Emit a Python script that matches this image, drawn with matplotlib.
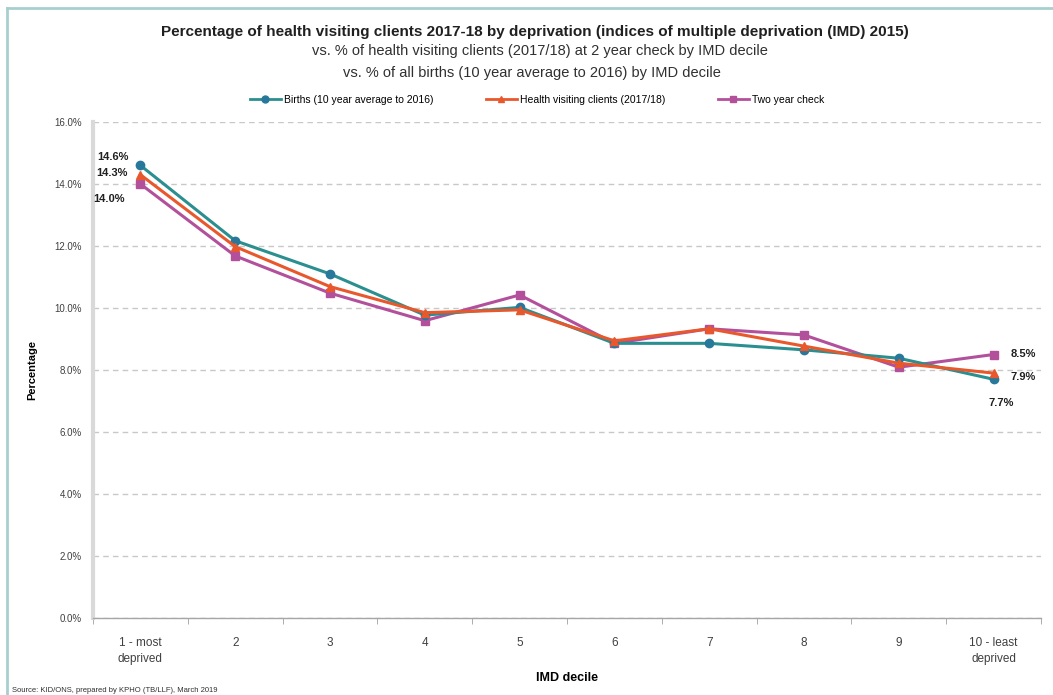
import matplotlib
matplotlib.use('Agg')
import matplotlib.pyplot as plt
from matplotlib.lines import Line2D

FONT = 'Liberation Sans'
plt.rcParams['font.family'] = [FONT, 'DejaVu Sans']

# data
deciles = [1, 2, 3, 4, 5, 6, 7, 8, 9, 10]
tick_labels = ['1 - most\ndeprived', '2', '3', '4', '5', '6', '7', '8', '9', '10 - least\ndeprived']
births = [14.6, 12.17, 11.1, 9.77, 10.02, 8.86, 8.86, 8.65, 8.38, 7.7]
hv_clients = [14.3, 11.98, 10.69, 9.85, 9.94, 8.94, 9.33, 8.77, 8.22, 7.9]
two_year = [14.0, 11.68, 10.48, 9.59, 10.42, 8.86, 9.33, 9.13, 8.09, 8.5]
series_names = ['Births (10 year average to 2016)', 'Health visiting clients (2017/18)', 'Two year check']
yticks = [0, 2, 4, 6, 8, 10, 12, 14, 16]

TEAL = '#2b8f8f'
TEAL_MK = '#27789a'
ORANGE = '#e8582c'
PURPLE = '#b3509b'

fig = plt.figure(figsize=(10.53, 6.95), dpi=100)
ax = fig.add_axes([93 / 1053, 1 - 618 / 695, (1041 - 93) / 1053, (618 - 122) / 695])

ax.plot(deciles, births, color=TEAL, lw=2.2, marker='o', ms=6, mfc=TEAL_MK, mec=TEAL_MK, zorder=3)
ax.plot(deciles, hv_clients, color=ORANGE, lw=2.2, marker='^', ms=6, mfc=ORANGE, mec=ORANGE, zorder=4)
ax.plot(deciles, two_year, color=PURPLE, lw=2.2, marker='s', ms=6, mfc=PURPLE, mec=PURPLE, zorder=2)

ax.set_xlim(0.5, 10.5)
ax.set_ylim(0, 16)
ax.set_yticks(yticks)
ax.set_yticklabels(['%.1f%%' % v for v in yticks], fontsize=7, color='#404040')
ax.set_xticks(deciles)
ax.set_xticklabels(tick_labels, fontsize=8.5, color='#404040', linespacing=1.45)
ax.set_xticks([d + 0.5 for d in [0] + deciles], minor=True)
ax.tick_params(axis='x', which='major', length=0, pad=14)
ax.tick_params(axis='x', which='minor', length=4, color='#a0a0a0')
ax.tick_params(axis='y', length=0, pad=8)

ax.yaxis.grid(True, linestyle=(0, (4, 3)), color='#c8c8c8', lw=1)
ax.set_axisbelow(True)
for s in ['top', 'right']:
    ax.spines[s].set_visible(False)
ax.spines['left'].set_color('#d9d9d9')
ax.spines['left'].set_linewidth(3)
ax.spines['bottom'].set_color('#a6a6a6')
ax.spines['bottom'].set_linewidth(1)

ax.set_ylabel('Percentage', fontsize=8, fontweight='bold', labelpad=12)
ax.set_xlabel('IMD decile', fontsize=9, fontweight='bold')
ax.xaxis.set_label_coords(0.5, -54 / 496)

# data labels at both ends
lab = dict(fontsize=8, fontweight='bold', color='#202020')
ax.annotate('%.1f%%' % births[0], (1, births[0]), xytext=(-31, 4), textcoords='offset points', **lab)
ax.annotate('%.1f%%' % hv_clients[0], (1, hv_clients[0]), xytext=(-32, -1), textcoords='offset points', **lab)
ax.annotate('%.1f%%' % two_year[0], (1, two_year[0]), xytext=(-34, -13), textcoords='offset points', **lab)
ax.annotate('%.1f%%' % two_year[-1], (10, two_year[-1]), xytext=(12, -2), textcoords='offset points', **lab)
ax.annotate('%.1f%%' % hv_clients[-1], (10, hv_clients[-1]), xytext=(12, -5), textcoords='offset points', **lab)
ax.annotate('%.1f%%' % births[-1], (10, births[-1]), xytext=(-4, -19), textcoords='offset points', **lab)

handles = [
    Line2D([], [], color=TEAL, lw=2, marker='o', ms=5, mfc=TEAL_MK, mec=TEAL_MK),
    Line2D([], [], color=ORANGE, lw=2, marker='^', ms=5, mfc=ORANGE, mec=ORANGE),
    Line2D([], [], color=PURPLE, lw=2, marker='s', ms=5, mfc=PURPLE, mec=PURPLE),
]
fig.legend(handles, series_names, loc='center', bbox_to_anchor=(537 / 1053, 1 - 100 / 695),
           ncol=3, frameon=False, fontsize=7.5, columnspacing=5, handlelength=3, handletextpad=0.3)

fig.text(535 / 1053, 1 - 32 / 695,
         'Percentage of health visiting clients 2017-18 by deprivation (indices of multiple deprivation (IMD) 2015)',
         ha='center', va='center', fontsize=11, fontweight='bold', color='#202020')
fig.text(540 / 1053, 1 - 51 / 695, 'vs. % of health visiting clients (2017/18) at 2 year check by IMD decile',
         ha='center', va='center', fontsize=10.5, color='#303030')
fig.text(532 / 1053, 1 - 73 / 695, 'vs. % of all births (10 year average to 2016) by IMD decile',
         ha='center', va='center', fontsize=10.5, color='#303030')
fig.text(12 / 1053, 1 - 690 / 695, 'Source: KID/ONS, prepared by KPHO (TB/LLF), March 2019',
         ha='left', va='center', fontsize=5.5, color='#303030')

# outer chart frame (top and left edges visible)
fig.add_artist(Line2D([7 / 1053, 1], [1 - 8 / 695, 1 - 8 / 695], transform=fig.transFigure, color='#a8cfcf', lw=2))
fig.add_artist(Line2D([7 / 1053, 7 / 1053], [1 - 8 / 695, 0], transform=fig.transFigure, color='#a8cfcf', lw=2))

fig.savefig('out.png', dpi=100, facecolor='white')
